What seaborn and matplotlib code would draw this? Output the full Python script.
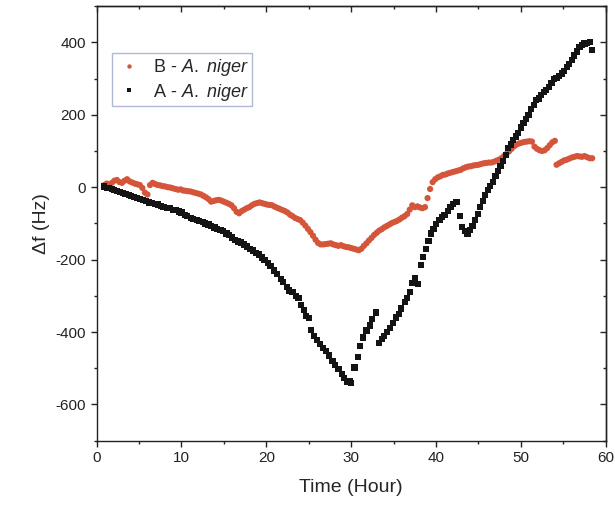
import numpy as np
import pandas as pd
import seaborn as sns
import matplotlib.pyplot as plt
from matplotlib.ticker import MultipleLocator

# series A (black squares)
time_a = [0.9, 1.2, 1.5, 1.8, 2.1, 2.4, 2.8, 3.1, 3.4, 3.8,
          4.1, 4.4, 4.8, 5.1, 5.5, 5.8, 6.2, 6.5, 6.9, 7.2,
          7.6, 7.9, 8.3, 8.6, 9.0, 9.3, 9.7, 10.0, 10.4, 10.7,
          11.1, 11.4, 11.8, 12.1, 12.5, 12.8, 13.2, 13.5, 13.9, 14.2,
          14.6, 14.9, 15.3, 15.6, 16.0, 16.3, 16.7, 17.0, 17.4, 17.7,
          18.1, 18.4, 18.8, 19.1, 19.5, 19.8, 20.2, 20.5, 20.9, 21.3,
          21.7, 22.0, 22.4, 22.7, 23.1, 23.5, 23.8, 24.1, 24.4, 24.7,
          25.0, 25.3, 25.6, 26.0, 26.3, 26.7, 27.0, 27.4, 27.8, 28.1,
          28.5, 28.9, 29.2, 29.5, 29.8, 30.0, 30.4, 30.8, 31.0, 31.4,
          31.8, 32.2, 32.5, 32.9,
          33.3, 33.6, 33.9, 34.2, 34.6, 34.9, 35.3, 35.6, 35.9, 36.3,
          36.6, 36.9, 37.2, 37.5, 37.9, 38.2, 38.5, 38.8, 39.1, 39.4,
          39.7, 40.0, 40.4, 40.7, 41.0, 41.4, 41.7, 42.0, 42.4,
          42.8, 43.1, 43.4, 43.7, 44.0, 44.3, 44.6, 44.9, 45.2, 45.5,
          45.8, 46.1, 46.4, 46.7, 47.0, 47.3, 47.6, 47.9, 48.2, 48.5,
          48.8, 49.1, 49.4, 49.7, 50.0, 50.3, 50.6, 50.9, 51.2, 51.5,
          51.8, 52.1, 52.4, 52.7, 53.0, 53.3, 53.6, 53.9, 54.2, 54.5,
          54.8, 55.1, 55.4, 55.7, 56.0, 56.3, 56.6, 56.9, 57.2, 57.5,
          57.8, 58.1, 58.4]
df_a = [2, -2, -3, -6, -8, -10, -14, -16, -19, -22,
        -25, -27, -30, -32, -36, -38, -42, -44, -46, -48,
        -51, -54, -57, -58, -62, -64, -67, -70, -76, -80,
        -84, -87, -90, -93, -97, -100, -103, -107, -111, -115,
        -118, -122, -128, -133, -139, -146, -150, -153, -158, -164,
        -170, -175, -181, -186, -194, -200, -210, -218, -230, -240,
        -253, -262, -275, -285, -290, -300, -305, -325, -340, -356,
        -362, -395, -410, -422, -433, -443, -452, -465, -480, -490,
        -502, -515, -528, -537, -535, -540, -498, -470, -438, -415,
        -396, -382, -364, -346,
        -430, -420, -410, -400, -388, -375, -360, -350, -335, -318,
        -306, -290, -265, -250, -268, -215, -193, -170, -148, -128,
        -115, -102, -91, -82, -76, -66, -55, -46, -40,
        -80, -110, -122, -130, -118, -108, -90, -75, -55, -38,
        -22, -8, 4, 15, 30, 45, 58, 72, 90, 108,
        118, 130, 140, 150, 165, 178, 188, 200, 215, 228,
        240, 245, 254, 262, 268, 276, 288, 298, 302, 308,
        314, 322, 332, 340, 352, 364, 375, 388, 393, 397,
        398, 400, 380]

# series B (red circles)
time_b = [0.9, 1.2, 1.5, 1.8, 2.1, 2.4, 2.7, 3.0, 3.3, 3.6,
          3.9, 4.2, 4.5, 4.8, 5.1, 5.4, 5.7, 6.0, 6.3, 6.6,
          6.9, 7.2, 7.5, 7.8, 8.1, 8.4, 8.7, 9.0, 9.3, 9.6,
          9.9, 10.2, 10.5, 10.8, 11.1, 11.4, 11.7, 12.0, 12.3, 12.6,
          12.9, 13.2, 13.5, 13.8, 14.1, 14.4, 14.7, 15.0, 15.3, 15.6,
          15.9, 16.2, 16.5, 16.8, 17.1, 17.4, 17.7, 18.0, 18.3, 18.6,
          18.9, 19.2, 19.5, 19.8, 20.1, 20.4, 20.7, 21.0, 21.3, 21.6,
          21.9, 22.2, 22.5, 22.8, 23.1, 23.4, 23.7, 24.0, 24.3, 24.6,
          24.9, 25.2, 25.5, 25.8, 26.1, 26.4, 26.7, 27.0, 27.3, 27.6,
          27.9, 28.2, 28.5, 28.8, 29.1, 29.4, 29.7, 30.0, 30.3, 30.6,
          30.9, 31.2, 31.5, 31.8, 32.1, 32.4, 32.7, 33.0, 33.3, 33.6,
          33.9, 34.2, 34.5, 34.8, 35.1, 35.4, 35.7, 36.0, 36.3, 36.6,
          36.9, 37.2, 37.5, 37.8, 38.1, 38.4, 38.7, 39.0, 39.3, 39.6,
          39.9, 40.2, 40.5, 40.8, 41.1, 41.4, 41.7, 42.0, 42.3, 42.6,
          42.9, 43.2, 43.5, 43.8, 44.1, 44.4, 44.7, 45.0, 45.3, 45.6,
          45.9, 46.2, 46.5, 46.8, 47.1, 47.4, 47.7, 48.0, 48.3, 48.6,
          48.9, 49.2, 49.5, 49.8, 50.1, 50.4, 50.7, 51.0, 51.3, 51.6,
          51.9, 52.2, 52.5, 52.8, 53.1, 53.4, 53.7, 54.0, 54.2, 54.5,
          54.8, 55.1, 55.4, 55.7, 56.0, 56.3, 56.6, 56.9, 57.2, 57.5,
          57.8, 58.1, 58.4]
df_b = [6, 10, 3, 12, 18, 20, 14, 12, 18, 22,
        16, 13, 10, 8, 6, -2, -15, -20, 6, 12,
        9, 6, 5, 3, 2, 0, -1, -3, -5, -7,
        -6, -9, -10, -11, -12, -14, -16, -18, -20, -24,
        -28, -33, -40, -38, -36, -35, -37, -40, -43, -46,
        -50, -58, -68, -72, -66, -62, -58, -55, -50, -46,
        -44, -42, -44, -46, -48, -49, -50, -54, -57, -60,
        -63, -66, -70, -76, -80, -85, -88, -91, -98, -106,
        -115, -124, -134, -145, -154, -158, -158, -157, -156, -155,
        -158, -160, -162, -160, -163, -165, -166, -168, -170, -172,
        -174, -170, -162, -155, -147, -140, -132, -126, -120, -116,
        -111, -107, -103, -99, -96, -93, -89, -84, -80, -74,
        -62, -50, -55, -53, -56, -58, -55, -30, -5, 14,
        22, 27, 30, 34, 35, 38, 40, 42, 44, 46,
        48, 52, 55, 57, 58, 60, 61, 62, 64, 66,
        67, 68, 68, 70, 73, 76, 80, 86, 92, 99,
        106, 113, 118, 121, 123, 125, 126, 127, 126, 112,
        106, 102, 100, 102, 108, 116, 124, 128, 62, 66,
        70, 74, 76, 79, 82, 84, 86, 85, 84, 86,
        83, 80, 80]

labels = ["B - $\\it{A.\\ niger}$", "A - $\\it{A.\\ niger}$"]
colors = ["#d4553a", "#141414"]

data = pd.concat([
    pd.DataFrame({"time": time_b, "df": df_b, "series": labels[0]}),
    pd.DataFrame({"time": time_a, "df": df_a, "series": labels[1]}),
])

sns.set_style("white")
plt.rcParams['font.family'] = ['Liberation Sans', 'DejaVu Sans']
plt.rcParams['mathtext.fontset'] = 'custom'
plt.rcParams['mathtext.it'] = 'Liberation Sans:italic'
plt.rcParams['mathtext.rm'] = 'Liberation Sans'
plt.rcParams['axes.unicode_minus'] = False

fig = plt.figure(figsize=(6.15, 5.13), dpi=100)
ax = fig.add_axes([0.157, 0.141, 0.828, 0.847])

sns.scatterplot(data=data, x="time", y="df", hue="series", style="series",
                palette=colors, markers=["o", "s"], s=20, linewidth=0,
                ax=ax)

ax.set_xlim(0, 60)
ax.set_ylim(-700, 500)
ax.xaxis.set_major_locator(MultipleLocator(10))
ax.xaxis.set_minor_locator(MultipleLocator(5))
ax.yaxis.set_major_locator(MultipleLocator(200))
ax.yaxis.set_minor_locator(MultipleLocator(100))
ax.tick_params(which='major', direction='out', length=4, width=1, labelsize=11, colors='#222222')
ax.tick_params(which='minor', direction='out', length=2.5, width=1)
ax.tick_params(bottom=True, left=True, which='both')

secx = ax.secondary_xaxis('top')
secx.xaxis.set_major_locator(MultipleLocator(10))
secx.xaxis.set_minor_locator(MultipleLocator(5))
secx.tick_params(which='both', direction='in', labeltop=False)
secx.tick_params(which='major', length=4, width=1)
secx.tick_params(which='minor', length=2.5, width=1)
secy = ax.secondary_yaxis('right')
secy.yaxis.set_major_locator(MultipleLocator(200))
secy.yaxis.set_minor_locator(MultipleLocator(100))
secy.tick_params(which='both', direction='in', labelright=False)
secy.tick_params(which='major', length=4, width=1)
secy.tick_params(which='minor', length=2.5, width=1)

for sp in list(ax.spines.values()) + [secx.spines['top'], secy.spines['right']]:
    sp.set_linewidth(1.0)
    sp.set_color('#222222')

ax.set_xlabel("Time (Hour)", fontsize=14, labelpad=10)
ax.set_ylabel("\u0394f (Hz)", fontsize=14, labelpad=4)

ax.legend(loc='upper left', bbox_to_anchor=(0.012, 0.912), fontsize=13,
          frameon=True, fancybox=False, edgecolor='#9aa8c8', handletextpad=0.6,
          borderpad=0.2, labelspacing=0.2, markerscale=0.7, handlelength=1.5)

fig.savefig("out.png", dpi=100)
